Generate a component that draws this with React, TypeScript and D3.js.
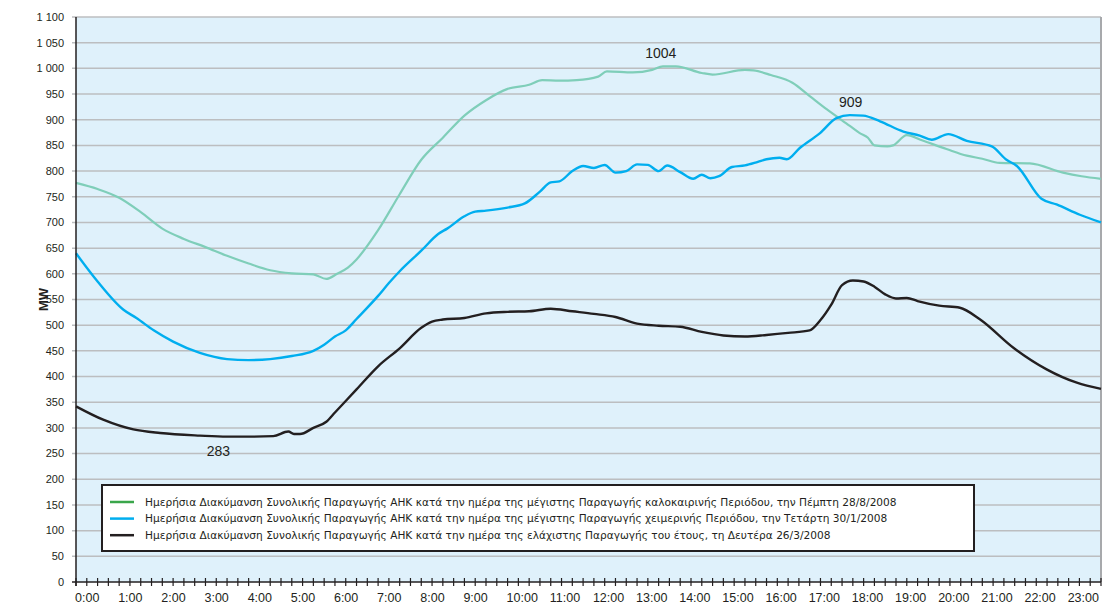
import { scaleLinear, line, curveMonotoneX, range } from "d3";

// [hour, MW] readings, summer max day 28/8/2008
const summerPeak: [number, number][] = [
  [0, 777], [0.5, 765], [1.0, 748], [1.5, 720], [2.0, 688], [2.5, 668], [3.0, 652],
  [3.5, 635], [4.0, 620], [4.5, 607], [5.0, 601], [5.5, 599], [5.8, 590], [6.05, 600],
  [6.3, 612], [6.5, 628], [7.0, 685], [7.5, 755], [8.0, 822], [8.5, 865], [9.0, 908],
  [9.5, 938], [10.0, 960], [10.5, 968], [10.8, 977], [11.2, 976], [11.6, 977],
  [12.1, 984], [12.3, 994], [12.9, 992], [13.35, 997], [13.6, 1004], [13.9, 1004],
  [14.5, 991], [14.75, 988], [15.5, 997], [15.7, 996], [16.1, 987], [16.6, 972],
  [17.0, 946], [17.4, 920], [17.93, 888], [18.16, 874], [18.35, 865], [18.5, 850],
  [18.8, 848], [18.93, 850], [19.25, 870], [19.6, 860], [20.17, 843], [20.64, 830],
  [21.0, 824], [21.4, 816], [22.1, 815], [22.87, 797], [23.3, 790], [23.75, 785],
];

// winter max day 30/1/2008
const winterPeak: [number, number][] = [
  [0, 640], [0.5, 585], [1.1, 530], [1.4, 514], [1.8, 490], [2.25, 468], [2.87, 446],
  [3.5, 434], [4.0, 432], [4.5, 434], [5.0, 440], [5.5, 450], [5.75, 462], [6.0, 478],
  [6.25, 490], [6.5, 512], [7.0, 557], [7.25, 582], [7.5, 605], [8.0, 645], [8.4, 678],
  [8.6, 688], [9.0, 712], [9.25, 721], [9.5, 723], [10.0, 729], [10.4, 737],
  [10.75, 760], [11.0, 778], [11.2, 780], [11.5, 800], [11.75, 810], [12.0, 806],
  [12.25, 812], [12.5, 797], [12.75, 800], [13.0, 813], [13.25, 812], [13.5, 800],
  [13.7, 811], [14.0, 798], [14.3, 785], [14.5, 793], [14.7, 786], [14.9, 790],
  [15.2, 808], [15.5, 811], [15.8, 818], [16.0, 823], [16.3, 826], [16.47, 823],
  [16.77, 845], [17.24, 874], [17.62, 903], [17.93, 909], [18.24, 908], [18.63, 897],
  [19.17, 877], [19.55, 869], [19.83, 861], [20.21, 872], [20.64, 859], [21.22, 848],
  [21.56, 822], [21.8, 810], [22.37, 746], [22.72, 735], [23.26, 715], [23.75, 700],
];

// minimum day of the year 26/3/2008
const yearMinimum: [number, number][] = [
  [0, 342], [0.63, 316], [1.33, 297], [1.95, 290], [2.87, 285], [3.5, 283], [4.0, 283],
  [4.57, 284], [4.92, 293], [5.05, 288], [5.19, 288], [5.5, 300], [5.8, 312], [6.0, 330],
  [6.5, 375], [7.0, 420], [7.5, 455], [8.0, 495], [8.25, 507], [8.5, 511], [9.0, 514],
  [9.5, 523], [10.0, 526], [10.5, 527], [11.0, 532], [11.5, 527], [12.0, 522],
  [12.5, 516], [13.0, 503], [13.5, 499], [14.0, 497], [14.5, 487], [15.0, 480],
  [15.5, 478], [16.0, 481], [16.5, 485], [17.0, 490], [17.25, 510], [17.5, 540],
  [17.75, 578], [18.0, 587], [18.25, 585], [18.5, 575], [18.75, 560], [19.0, 552],
  [19.25, 553], [19.5, 547], [20.0, 538], [20.48, 534], [20.95, 511], [21.72, 456],
  [22.49, 414], [23.19, 388], [23.75, 376],
];

const legendLabels = [
  "Ημερήσια Διακύμανση Συνολικής Παραγωγής ΑΗΚ κατά την ημέρα της μέγιστης Παραγωγής καλοκαιρινής Περιόδου, την Πέμπτη 28/8/2008",
  "Ημερήσια Διακύμανση Συνολικής Παραγωγής ΑΗΚ κατά την ημέρα της μέγιστης Παραγωγής χειμερινής Περιόδου, την Τετάρτη 30/1/2008",
  "Ημερήσια Διακύμανση Συνολικής Παραγωγής ΑΗΚ κατά την ημέρα της ελάχιστης Παραγωγής του έτους, τη Δευτέρα 26/3/2008",
];

const yTicks = range(0, 1101, 50);
const hourLabels = range(0, 24);

// peak / minimum callouts: [hour, MW, text]
const callouts: [number, number, string][] = [
  [13.55, 1004, "1004"],
  [17.95, 909, "909"],
  [3.3, 283, "283"],
];

const width = 1104;
const height = 608;
const marginLeft = 76;
const marginRight = 3;
const marginTop = 17;
const marginBottom = 26;

const font = "'Liberation Sans', Arial, sans-serif";

export default function App() {
  const x = scaleLinear()
    .domain([0, 23.75])
    .range([marginLeft, width - marginRight]);
  const y = scaleLinear()
    .domain([0, 1100])
    .range([height - marginBottom, marginTop]);

  const path = line<[number, number]>()
    .x((d) => x(d[0]))
    .y((d) => y(d[1]))
    .curve(curveMonotoneX);

  const series = [
    { data: summerPeak, color: "#7fceb9", legend: "#3aa64b", w: 2.2 },
    { data: winterPeak, color: "#00aeef", legend: "#00aeef", w: 2.4 },
    { data: yearMinimum, color: "#231f20", legend: "#231f20", w: 2.4 },
  ];

  const quarterTicks = range(0, 96).map((i) => i / 4);

  return (
    <svg
      width={width}
      height={height}
      style={{ position: "absolute", left: 0, top: 0, fontFamily: font }}>
      <rect width={width} height={height} fill="white" />
      <rect
        x={x(0)}
        y={y(1100)}
        width={x(23.75) - x(0)}
        height={y(0) - y(1100)}
        fill="#dff1fb"
      />
      {yTicks.map((t) => (
        <g key={t}>
          {t > 0 && (
            <line
              x1={x(0) - 4}
              x2={x(23.75)}
              y1={y(t)}
              y2={y(t)}
              stroke="#bcbec0"
              strokeWidth={1.5}
            />
          )}
          <text
            x={64}
            y={y(t)}
            dy="0.35em"
            textAnchor="end"
            fontSize={11}
            fill="#231f20">
            {t >= 1000 ? `${Math.floor(t / 1000)} ${String(t % 1000).padStart(3, "0")}` : t}
          </text>
        </g>
      ))}
      <line
        x1={x(23.75)}
        x2={x(23.75)}
        y1={y(1100)}
        y2={y(0)}
        stroke="#a7a9ac"
        strokeWidth={2}
      />

      {series.map((s, i) => (
        <path
          key={i}
          d={path(s.data) ?? ""}
          fill="none"
          stroke={s.color}
          strokeWidth={s.w}
          strokeLinejoin="round"
        />
      ))}

      {callouts.map(([h, v, label]) => (
        <text
          key={label}
          x={x(h)}
          y={v === 283 ? y(v) + 19 : y(v) - 8}
          textAnchor="middle"
          fontSize={14}
          fill="#231f20">
          {label}
        </text>
      ))}

      {/* axes */}
      <line x1={x(0)} x2={x(0)} y1={y(1100)} y2={y(0) + 4} stroke="#231f20" strokeWidth={1.5} />
      <line x1={x(0) - 4} x2={x(23.75)} y1={y(0)} y2={y(0)} stroke="#231f20" strokeWidth={1.5} />
      {quarterTicks.map((q) => (
        <line
          key={q}
          x1={x(q)}
          x2={x(q)}
          y1={y(0) - 4}
          y2={y(0) + 4}
          stroke="#231f20"
          strokeWidth={1.2}
        />
      ))}
      {hourLabels.map((h) => (
        <text key={h} x={x(h) - 1} y={y(0) + 20} fontSize={12.5} fill="#231f20">
          {`${h}:00`}
        </text>
      ))}
      <text
        transform={`translate(48,${(y(0) + y(1100)) / 2}) rotate(-90)`}
        textAnchor="middle"
        fontSize={13}
        fontWeight="bold"
        fill="#231f20">
        MW
      </text>

      {/* legend */}
      <rect x={102} y={485} width={872} height={66} fill="white" stroke="#231f20" strokeWidth={2} />
      {series.map((s, i) => (
        <g key={i} transform={`translate(110,${502 + i * 16.6})`}>
          <line x1={0} x2={24} y1={0} y2={0} stroke={s.legend} strokeWidth={2.5} />
          <text
            x={35}
            y={0}
            dy="0.35em"
            fontSize={10.6}
            fontFamily="'DejaVu Sans', sans-serif"
            fill="#231f20">
            {legendLabels[i]}
          </text>
        </g>
      ))}
    </svg>
  );
}
